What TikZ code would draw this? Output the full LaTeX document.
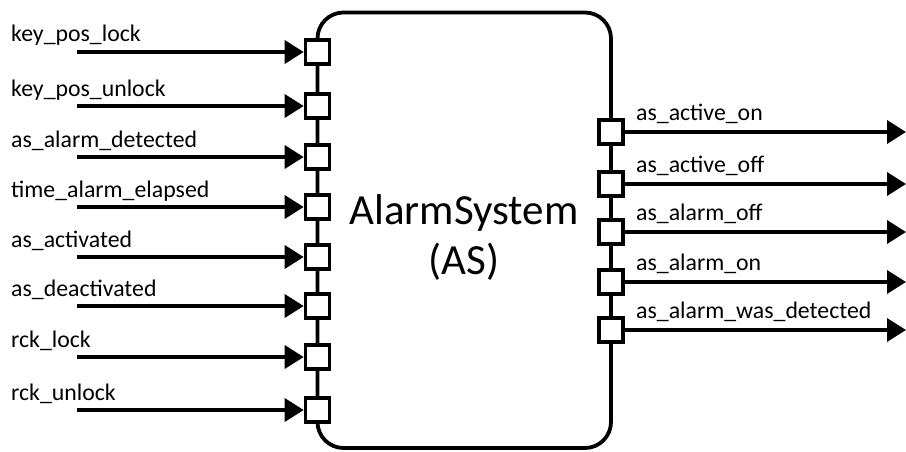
\documentclass[tikz,border=0pt]{standalone}
\usepackage{fontspec}
\setmainfont{Carlito}
\usetikzlibrary{arrows.meta}
\begin{document}
\begin{tikzpicture}[x=1pt,y=-1pt,
  portbox/.style={draw,fill=white,line width=3.6pt,minimum width=24pt,minimum height=24pt,inner sep=0pt},
  sig/.style={line width=3.6pt,-{Triangle[length=19pt,width=23pt]}},
  lbl/.style={font=\fontsize{23.8}{28}\selectfont,inner sep=0pt},
  title/.style={font=\fontsize{43}{50}\selectfont,align=center,inner sep=0pt}]
\useasboundingbox (0,0) rectangle (906,452);
% main block
\draw[line width=3.8pt,rounded corners=26pt] (317.5,12.5) rectangle (611,448);
\node[title] (as) at (464,238) {AlarmSystem\\(AS)};
% left inputs
\foreach \n/\y/\t in {i1/52/key\_pos\_lock, i2/106/key\_pos\_unlock, i3/157/as\_alarm\_detected, i4/207/time\_alarm\_elapsed, i5/257/as\_activated, i6/306/as\_deactivated, i7/357/rck\_lock, i8/410/rck\_unlock}{
  \node[portbox] (\n) at (317.5,\y) {};
  \coordinate (\n s) at (77,\y);
  \draw[sig] (\n s) -- (\n.west);
  \node[lbl,anchor=base west] (\n l) at (11,\y-10) {\t};
}
% right outputs
\foreach \n/\y/\t in {o1/132/as\_active\_on, o2/184/as\_active\_off, o3/232/as\_alarm\_off, o4/282/as\_alarm\_on, o5/330/as\_alarm\_was\_detected}{
  \node[portbox] (\n) at (611,\y) {};
  \coordinate (\n e) at (906,\y);
  \draw[sig] (\n.east) -- (\n e);
  \node[lbl,anchor=base west] (\n l) at (636,\y-11.5) {\t};
}
\end{tikzpicture}
\end{document}
